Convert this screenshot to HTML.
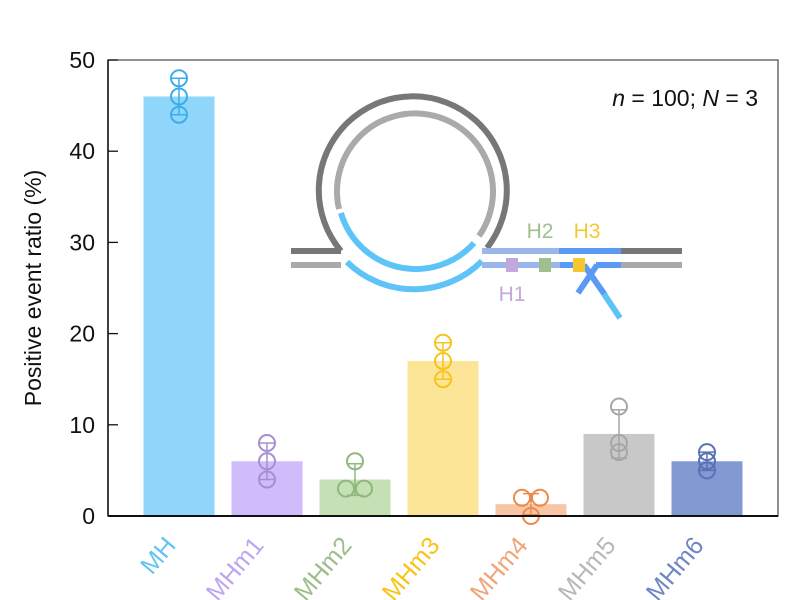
<!DOCTYPE html>
<html><head><meta charset="utf-8"><style>
html,body{margin:0;padding:0;background:#fff;}
svg{display:block;font-family:"Liberation Sans",sans-serif;}
</style></head><body>
<svg id="chart" width="795" height="600" viewBox="0 0 795 600">
<g id="diagram" fill="none" stroke-width="6">
  <path d="M341,251 A94,94 0 1 1 487,248" stroke="#777"/>
  <path d="M339,209 A78,78 0 1 1 479,236" stroke="#aaa"/>
  <path d="M341,213 A78,78 0 0 0 474,243" stroke="#5ec4f7"/>
  <path d="M347,262 A96,96 0 0 0 482,261" stroke="#5ec4f7"/>
  <line x1="291" y1="251" x2="341" y2="251" stroke="#777"/>
  <line x1="291" y1="265" x2="341" y2="265" stroke="#aaa"/>
  <line x1="482" y1="251" x2="560" y2="251" stroke="#9bb6ea"/>
  <line x1="559" y1="251" x2="621" y2="251" stroke="#5a9af5"/>
  <line x1="621" y1="251" x2="682" y2="251" stroke="#777"/>
  <line x1="482" y1="265" x2="561" y2="265" stroke="#9bb6ea"/>
  <line x1="560" y1="265" x2="585" y2="265" stroke="#5a9af5"/>
  <line x1="596" y1="265" x2="621" y2="265" stroke="#5a9af5"/>
  <line x1="621" y1="265" x2="682" y2="265" stroke="#aaa"/>
  <line x1="578" y1="293" x2="597" y2="265" stroke="#5a9af5"/>
  <line x1="584" y1="265" x2="605" y2="295" stroke="#5a9af5"/>
  <line x1="604" y1="294" x2="620" y2="318" stroke="#5ec4f7"/>
  <rect x="506" y="258" width="12" height="14" fill="#c3a8dd" stroke="none"/>
  <rect x="539" y="258" width="12" height="14" fill="#9fc08d" stroke="none"/>
  <rect x="573" y="258" width="12" height="14" fill="#f7c82e" stroke="none"/>
  <text x="512" y="301" font-size="21" fill="#c3a8dd" stroke="none" text-anchor="middle">H1</text>
  <text x="540" y="238" font-size="21" fill="#9fc08d" stroke="none" text-anchor="middle">H2</text>
  <text x="587" y="238" font-size="21" fill="#f7c82e" stroke="none" text-anchor="middle">H3</text>
</g>
<g id="plot"></g>
<text x="758" y="106" font-size="23" text-anchor="end" fill="#111"><tspan font-style="italic">n</tspan> = 100; <tspan font-style="italic">N</tspan> = 3</text>
<text transform="translate(41,288) rotate(-90)" font-size="23" text-anchor="middle" fill="#111">Positive event ratio (%)</text>
</svg>
<script>
const categories = ["MH","MHm1","MHm2","MHm3","MHm4","MHm5","MHm6"];
const means = [46, 6, 4, 17, 1.3, 9, 6];
const points = [[48,46,44],[8,6,4],[6,3,3],[19,17,15],[2,2,0],[12,8,7],[7,6,5]];
const yTicks = [0,10,20,30,40,50];
const barColors = ["#90d5fa","#d0bcfa","#c6e0b5","#fde598","#f8c5a5","#c8c8c8","#8299d1"];
const pointColors = ["#3aaeea","#a58fd0","#8fb87e","#f6c41a","#ec8a4e","#a6a6a6","#5872b8"];
const textColors = ["#62c3f3","#bda6f0","#9dbd8a","#f6c41a","#f1a57a","#b8b8b8","#6f86c4"];

const L=108,R=778,T=60,B=516, yMax=50;
const y=v=>B-(v/yMax)*(B-T);
const step=88, x0=179;
const x=i=>x0+i*step;
const bw=71;
const NS="http://www.w3.org/2000/svg";
const g=document.getElementById('plot');
function mk(t,a,p){const e=document.createElementNS(NS,t);for(const k in a)e.setAttribute(k,a[k]);(p||g).appendChild(e);return e;}

categories.forEach((c,i)=>{
  const b=mk('rect',{x:x(i)-bw/2,y:y(means[i]),width:bw,height:B-y(means[i]),fill:barColors[i]});
  
  
});
categories.forEach((c,i)=>{
  const p=points[i], m=p.reduce((a,b)=>a+b,0)/p.length;
  const sd=Math.sqrt(p.reduce((a,b)=>a+(b-m)*(b-m),0)/(p.length-1));
  const col=pointColors[i];
  const eb=mk('g',{stroke:col,'stroke-width':1.5,fill:'none'});
  
  
  mk('line',{x1:x(i),x2:x(i),y1:y(means[i]+sd),y2:y(Math.max(0,means[i]-sd))},eb);
  mk('line',{x1:x(i)-8,x2:x(i)+8,y1:y(means[i]+sd),y2:y(means[i]+sd)},eb);
  mk('line',{x1:x(i)-8,x2:x(i)+8,y1:y(Math.max(0,means[i]-sd)),y2:y(Math.max(0,means[i]-sd))},eb);
  const offs=[0,0,0];
  p.forEach((v,k)=>{const d=p.filter((w,j)=>j<k&&w===v).length;const n=p.filter(w=>w===v).length; offs[k]=n>1?(d-(n-1)/2)*18:0;});
  p.forEach((v,k)=>{
    const pt=mk('circle',{cx:x(i)+offs[k],cy:y(v),r:8,fill:'none',stroke:col,'stroke-width':2});
    
    
  });
});
const fr=mk('rect',{x:L,y:T,width:R-L,height:B-T,fill:'none',stroke:'#555','stroke-width':1.3});


const xa=mk('line',{x1:L,x2:R,y1:B,y2:B,stroke:'#111','stroke-width':2});


const ya=mk('line',{x1:L,x2:L,y1:T,y2:B,stroke:'#111','stroke-width':1.5});


yTicks.forEach(t=>{
  const tk=mk('line',{x1:L,x2:L+10,y1:y(t),y2:y(t),stroke:'#111','stroke-width':1.3});
  
  
  const lb=mk('text',{x:95,y:y(t)+8,'font-size':23,'text-anchor':'end',fill:'#111'});
  lb.textContent=t;
  
  
});
categories.forEach((c,i)=>{
  const t=mk('text',{transform:`translate(${x(i)-2},${B+30}) rotate(-50)`,'font-size':25,'text-anchor':'end',fill:textColors[i]});
  t.textContent=c;
  
  
});
</script>
</body></html>
